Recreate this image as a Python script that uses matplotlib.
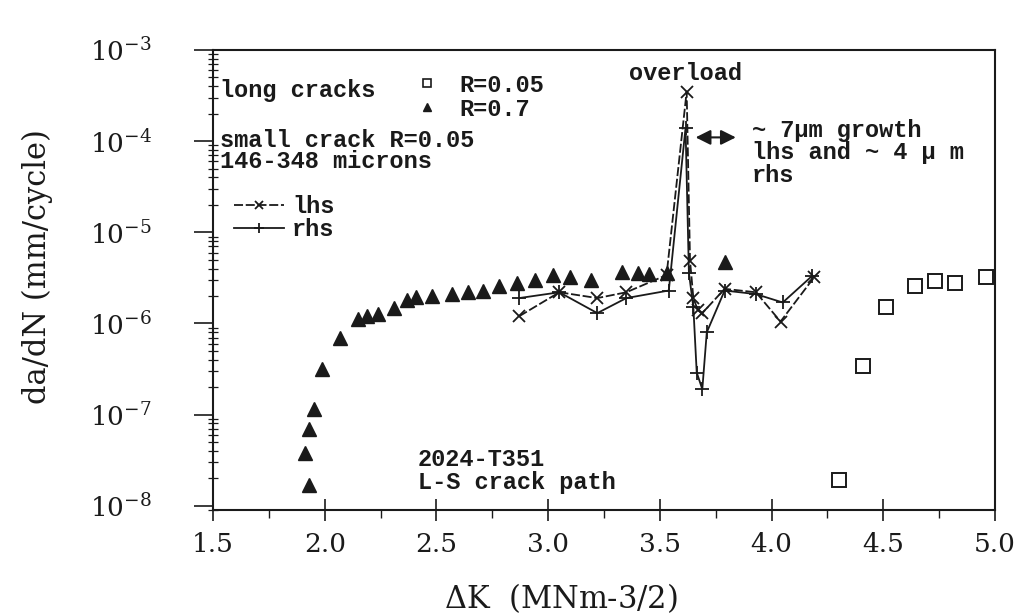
import math

import matplotlib
matplotlib.use("Agg")
import matplotlib.pyplot as plt
from matplotlib.lines import Line2D
from matplotlib.ticker import FixedLocator, FuncFormatter, NullFormatter

# long cracks, R=0.7 (filled triangles)
dk_r07 = [1.93, 1.91, 1.93, 1.95, 1.99, 2.07, 2.15, 2.19, 2.24, 2.31, 2.37, 2.41,
          2.48, 2.57, 2.64, 2.71, 2.78, 2.86, 2.94, 3.02, 3.10, 3.19, 3.33, 3.40,
          3.45, 3.53, 3.79]
dadn_r07 = [1.7e-8, 3.8e-8, 7e-8, 1.15e-7, 3.2e-7, 7e-7, 1.13e-6, 1.22e-6, 1.27e-6,
            1.48e-6, 1.8e-6, 1.94e-6, 2.0e-6, 2.1e-6, 2.2e-6, 2.3e-6, 2.6e-6, 2.8e-6,
            3.0e-6, 3.4e-6, 3.2e-6, 3.0e-6, 3.7e-6, 3.6e-6, 3.5e-6, 3.6e-6, 4.7e-6]

# long cracks, R=0.05 (open squares)
dk_r005 = [4.30, 4.41, 4.51, 4.64, 4.73, 4.82, 4.96]
dadn_r005 = [1.9e-8, 3.4e-7, 1.5e-6, 2.6e-6, 2.9e-6, 2.8e-6, 3.2e-6]

# small crack, lhs (x) and rhs (+)
dk_lhs = [2.87, 3.05, 3.22, 3.35, 3.53, 3.62, 3.635, 3.65, 3.67, 3.69, 3.79, 3.93,
          4.04, 4.19]
dadn_lhs = [1.2e-6, 2.2e-6, 1.9e-6, 2.2e-6, 3.4e-6, 3.5e-4, 4.9e-6, 1.9e-6, 1.4e-6,
            1.3e-6, 2.4e-6, 2.2e-6, 1.05e-6, 3.2e-6]

dk_rhs = [2.87, 3.05, 3.22, 3.35, 3.54, 3.615, 3.63, 3.65, 3.665, 3.69, 3.71, 3.79,
          3.93, 4.05, 4.18]
dadn_rhs = [1.9e-6, 2.2e-6, 1.3e-6, 1.9e-6, 2.3e-6, 1.4e-4, 3.6e-6, 1.5e-6, 2.9e-7,
            1.9e-7, 8e-7, 2.3e-6, 2.1e-6, 1.7e-6, 3.3e-6]

x_ticks = [1.5, 2.0, 2.5, 3.0, 3.5, 4.0, 4.5, 5.0]
y_ticks = [1e-8, 1e-7, 1e-6, 1e-5, 1e-4, 1e-3]

INK = "#1a1a1a"
SERIF = "DejaVu Serif"
MONO = dict(family="Liberation Mono", weight="bold", size=17)
NOTE = dict(family="Liberation Mono", fontweight="bold", fontsize=17, color=INK)

plt.rcParams["mathtext.fontset"] = "dejavuserif"
plt.rcParams["font.family"] = SERIF

fig = plt.figure(figsize=(10.29, 6.14), dpi=100)
ax = fig.add_axes([213 / 1029, 104 / 614, 782 / 1029, 460 / 614])

ax.plot(dk_r07, dadn_r07, ls="none", marker="^", ms=10, color=INK)
ax.plot(dk_r005, dadn_r005, ls="none", marker="s", ms=10, mfc="none", mec=INK, mew=1.4)
lhs, = ax.plot(dk_lhs, dadn_lhs, ls=(0, (5, 1.5)), lw=1.3, marker="x", ms=9, mew=1.3, color=INK)
rhs, = ax.plot(dk_rhs, dadn_rhs, ls="-", lw=1.3, marker="+", ms=10, mew=1.3, color=INK)

ax.set_yscale("log")
ax.set_xlim(1.5, 5.0)
ax.set_ylim(9e-9, 1e-3)

ax.xaxis.set_major_locator(FixedLocator(x_ticks))
ax.xaxis.set_minor_locator(FixedLocator([v + 0.25 for v in x_ticks[:-1]]))
ax.xaxis.set_major_formatter(FuncFormatter(lambda v, p: f"{v:.1f}"))
ax.yaxis.set_major_locator(FixedLocator(y_ticks))
ax.yaxis.set_major_formatter(
    FuncFormatter(lambda v, p: r"$\mathregular{10^{%d}}$" % round(math.log10(v))))
ax.yaxis.set_minor_formatter(NullFormatter())

ax.tick_params(axis="x", which="major", direction="inout", length=16, width=1.2,
               labelsize=19, pad=8, colors=INK)
ax.tick_params(axis="x", which="minor", direction="out", length=6, width=1, colors=INK)
ax.tick_params(axis="y", which="major", direction="out", length=14, width=1.2,
               labelsize=19, pad=30, colors=INK)
ax.tick_params(axis="y", which="minor", direction="inout", length=7, width=0.9, colors=INK)
for s in ax.spines.values():
    s.set_linewidth(1.5)
    s.set_color(INK)

ax.set_xlabel(r"$\Delta$K  (MNm-3/2)", fontsize=22, color=INK)
ax.xaxis.set_label_coords(0.445, -0.155)
ax.set_ylabel("da/dN (mm/cycle)", fontsize=22, color=INK)
ax.yaxis.set_label_coords(-0.205, 0.53)

# long-crack key
ax.text(0.009, 0.913, "long cracks", transform=ax.transAxes, va="center", **NOTE)
key1 = ax.legend(
    [Line2D([], [], ls="none", marker="s", ms=6, mfc="none", mec=INK, mew=1.2),
     Line2D([], [], ls="none", marker="^", ms=6, color=INK)],
    ["R=0.05", "R=0.7"], loc="upper left", bbox_to_anchor=(0.228, 0.995),
    frameon=False, handlelength=1.2, handletextpad=0.8, labelspacing=0.05, prop=MONO)
for t in key1.get_texts():
    t.set_color(INK)
ax.add_artist(key1)

ax.text(0.009, 0.804, "small crack R=0.05", transform=ax.transAxes, va="center", **NOTE)
ax.text(0.009, 0.757, "146-348 microns", transform=ax.transAxes, va="center", **NOTE)
key2 = ax.legend([lhs, rhs], ["lhs", "rhs"], loc="upper left", bbox_to_anchor=(0.0, 0.73),
                 frameon=False, handlelength=2.1, handletextpad=0.35, labelspacing=0.0,
                 numpoints=1, markerscale=0.7, prop=MONO)
for t in key2.get_texts():
    t.set_color(INK)

ax.text(0.604, 0.95, "overload", transform=ax.transAxes, ha="center", va="center", **NOTE)
ax.annotate("", xy=(3.84, 1.1e-4), xytext=(3.66, 1.1e-4),
            arrowprops=dict(arrowstyle="<|-|>,head_length=0.9,head_width=0.45",
                            color=INK, lw=1.5, shrinkA=0, shrinkB=0))
ax.text(0.689, 0.826, "~ 7\u03bcm growth", transform=ax.transAxes, va="center", **NOTE)
ax.text(0.689, 0.778, "lhs and ~ 4 \u03bc m", transform=ax.transAxes, va="center", **NOTE)
ax.text(0.689, 0.728, "rhs", transform=ax.transAxes, va="center", **NOTE)

ax.text(0.262, 0.109, "2024-T351", transform=ax.transAxes, va="center", **NOTE)
ax.text(0.262, 0.059, "L-S crack path", transform=ax.transAxes, va="center", **NOTE)

fig.savefig("out.png", dpi=100)
